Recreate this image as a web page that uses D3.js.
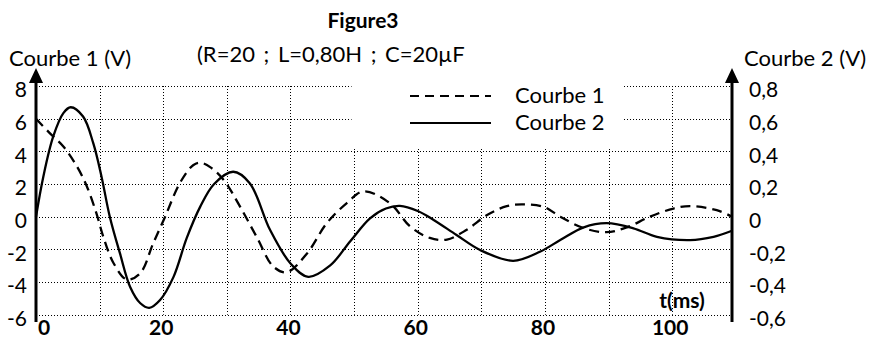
<!DOCTYPE html>
<html>
<head>
<meta charset="utf-8">
<script src="https://cdn.jsdelivr.net/npm/d3@7"></script>
<style>
  body { margin: 0; background: #fff; }
  svg { display: block; }
  text { font-family: Lato, 'Open Sans', sans-serif; fill: #000; }
</style>
</head>
<body>
<div class="chart"></div>
<script>
// Courbe 1 (left axis, V)
const t1 = [0, 2.2, 4.3, 6.4, 8.0, 9.5, 10.6, 12.2, 14.3, 16.4, 18.4, 20.3, 22.6, 24.7, 25.9, 27.5, 29.5,
  32.1, 34.7, 37.3, 39.4, 42.6, 45.7, 48.9, 51.5, 55.7, 58.8, 61.9, 64.6, 67.7, 70.9, 74.0, 76.6, 79.8,
  82.4, 86.1, 89.7, 92.9, 96.5, 100.2, 102.8, 107.0, 109.4];
const courbe1 = [6.0, 5.1, 4.3, 3.1, 1.85, 0.2, -1.25, -2.85, -3.85, -3.45, -1.65, 0.0, 2.05, 3.15, 3.3, 3.0, 2.25,
  0.6, -1.25, -3.05, -3.4, -2.25, -0.4, 0.85, 1.55, 0.8, -0.6, -1.3, -1.4, -0.8, 0.1, 0.65, 0.75, 0.6,
  0.0, -0.7, -0.95, -0.65, 0.0, 0.5, 0.65, 0.4, 0.0];

// Courbe 2 (right axis, V)
const t2 = [0, 1.15, 2.7, 4.3, 5.45, 7.4, 9.0, 10.3, 11.6, 13.2, 14.8, 16.4, 17.8, 19.5, 21.6, 23.7,
  25.8, 28.0, 31.0, 33.6, 36.8, 40.0, 42.8, 46.2, 49.4, 52.5, 55.0, 57.2, 60.0, 62.5, 66.1, 69.8, 75.0, 79.2,
  82.4, 86.1, 89.7, 93.9, 97.6, 102.8, 106.5, 109.4];
const courbe2 = [0, 0.245, 0.49, 0.634, 0.67, 0.613, 0.45, 0.245, 0, -0.225, -0.43, -0.53, -0.558, -0.51, -0.37, -0.13,
  0.06, 0.2, 0.275, 0.205, -0.082, -0.286, -0.368, -0.3, -0.15, -0.01, 0.05, 0.066, 0.035, -0.02, -0.112, -0.204, -0.27, -0.215,
  -0.143, -0.065, -0.04, -0.071, -0.123, -0.143, -0.123, -0.086];

// ticks
const leftTicks = [-6, -4, -2, 0, 2, 4, 6, 8];
const leftLabels = ['-6', '-4', '-2', '0', '2', '4', '6', '8'];
const rightTicks = [-0.6, -0.4, -0.2, 0, 0.2, 0.4, 0.6, 0.8];
const rightLabels = ['-0,6', '-0,4', '-0,2', '0', '0,2', '0,4', '0,6', '0,8'];
const xGrid = [10, 20, 30, 40, 50, 60, 70, 80, 90, 100];
const xTicks = [0, 20, 40, 60, 80, 100];
const xLabels = ['0', '20', '40', '60', '80', '100'];
const legendNames = ['Courbe 1', 'Courbe 2'];

const w = 869;
const h = 342;

const xScale = d3.scaleLinear().domain([0, 109.4]).range([36, 732]);
const yLeft = d3.scaleLinear().domain([-6, 8]).range([314.7, 86]);
const yRight = d3.scaleLinear().domain([-0.6, 0.8]).range([314.7, 86]);

const svg = d3.select('.chart')
  .append('svg')
  .attr('width', w)
  .attr('height', h);

// dotted grid
svg.append('g')
  .selectAll('line')
  .data(leftTicks)
  .enter()
  .append('line')
  .attr('x1', xScale(0))
  .attr('x2', xScale(109.4))
  .attr('y1', (d) => Math.round(yLeft(d)) + 0.5)
  .attr('y2', (d) => Math.round(yLeft(d)) + 0.5)
  .attr('stroke', '#000')
  .attr('stroke-width', 1)
  .attr('stroke-dasharray', '1,2');

svg.append('g')
  .selectAll('line')
  .data(xGrid)
  .enter()
  .append('line')
  .attr('x1', (d) => Math.round(xScale(d)) + 0.5)
  .attr('x2', (d) => Math.round(xScale(d)) + 0.5)
  .attr('y1', Math.round(yLeft(8)))
  .attr('y2', yLeft(-6))
  .attr('stroke', '#000')
  .attr('stroke-width', 1)
  .attr('stroke-dasharray', '1,2');

// legend box hides the grid behind it
svg.append('rect')
  .attr('x', xScale(49.6))
  .attr('y', yLeft(8.5))
  .attr('width', xScale(92.4) - xScale(49.6))
  .attr('height', yLeft(4.15) - yLeft(8.5))
  .attr('fill', '#fff');

const legend = svg.append('g');
legendNames.forEach((name, i) => {
  const y = 96 + i * 27;
  legend.append('line')
    .attr('x1', 410)
    .attr('x2', 491)
    .attr('y1', y)
    .attr('y2', y)
    .attr('stroke', '#000')
    .attr('stroke-width', 2)
    .attr('stroke-dasharray', i === 0 ? '9,6' : null);
  legend.append('text')
    .attr('x', 515)
    .attr('y', y + 7)
    .style('font-size', '22px')
    .text(name);
});

// curves
const line1 = d3.line()
  .x((d, i) => xScale(t1[i]))
  .y((d) => yLeft(d))
  .curve(d3.curveCatmullRom);

const line2 = d3.line()
  .x((d, i) => xScale(t2[i]))
  .y((d) => yRight(d))
  .curve(d3.curveCatmullRom);

svg.append('path')
  .datum(courbe1)
  .attr('d', line1)
  .attr('fill', 'none')
  .attr('stroke', '#000')
  .attr('stroke-width', 2.3)
  .attr('stroke-dasharray', '10,6');

svg.append('path')
  .datum(courbe2)
  .attr('d', line2)
  .attr('fill', 'none')
  .attr('stroke', '#000')
  .attr('stroke-width', 2.3);

// axes with arrows
[xScale(0), xScale(109.4)].forEach((x) => {
  svg.append('line')
    .attr('x1', x)
    .attr('x2', x)
    .attr('y1', 80)
    .attr('y2', 322)
    .attr('stroke', '#000')
    .attr('stroke-width', 3);
  svg.append('path')
    .attr('d', `M${x},68 L${x - 7},83 L${x + 7},83 Z`)
    .attr('fill', '#000');
});

// left labels
svg.append('g')
  .selectAll('text')
  .data(leftTicks)
  .enter()
  .append('text')
  .attr('x', 27)
  .attr('y', (d) => yLeft(d) + 4)
  .attr('dy', '0.35em')
  .attr('text-anchor', 'end')
  .style('font-size', '21px')
  .text((d, i) => leftLabels[i]);

// right labels
svg.append('g')
  .selectAll('text')
  .data(rightTicks)
  .enter()
  .append('text')
  .attr('x', 749)
  .attr('y', (d) => yRight(d) + 4)
  .attr('dy', '0.35em')
  .style('font-size', '21px')
  .text((d, i) => rightLabels[i]);

// bottom labels
svg.append('g')
  .selectAll('text')
  .data(xTicks)
  .enter()
  .append('text')
  .attr('x', (d) => xScale(d) + (d === 0 ? 8 : -2))
  .attr('y', 335)
  .attr('text-anchor', 'middle')
  .style('font-size', '21px')
  .style('font-weight', 'bold')
  .text((d, i) => xLabels[i]);

svg.append('text')
  .attr('x', 682)
  .attr('y', 308)
  .attr('text-anchor', 'middle')
  .style('font-size', '21px')
  .style('font-weight', 'bold')
  .text('t(ms)');

// axis titles
svg.append('text')
  .attr('x', 9)
  .attr('y', 66)
  .style('font-size', '22px')
  .text('Courbe 1 (V)');

svg.append('text')
  .attr('x', 744)
  .attr('y', 66)
  .style('font-size', '22px')
  .text('Courbe 2 (V)');

// titles
svg.append('text')
  .attr('x', 363)
  .attr('y', 28)
  .attr('text-anchor', 'middle')
  .style('font-size', '21px')
  .style('font-weight', 'bold')
  .text('Figure3');

svg.append('text')
  .attr('x', 197)
  .attr('y', 62)
  .style('font-size', '22px')
  .style('word-spacing', '3px')
  .text('(R=20 ; L=0,80H ; C=20µF');
</script>
</body>
</html>
